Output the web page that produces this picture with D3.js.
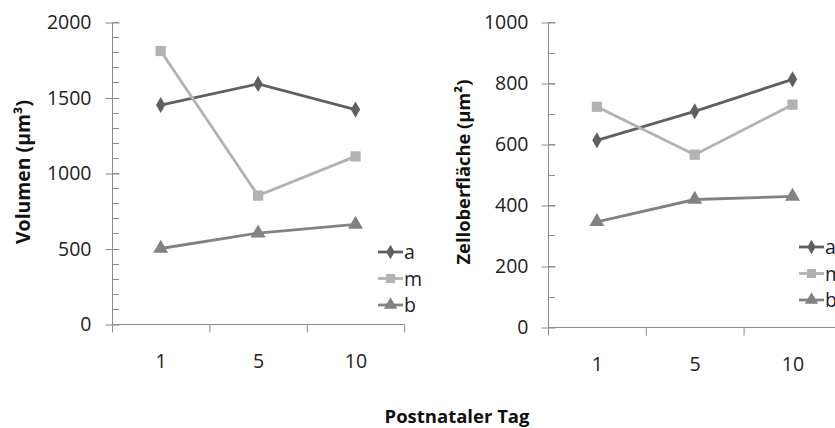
<!DOCTYPE html>
<html lang="de">
<head>
    <meta charset="UTF-8">
    <title>Volumen und Zelloberfläche</title>
    <script src="https://d3js.org/d3.v7.min.js"></script>
    <style>
        body, html {
            margin: 0;
            padding: 0;
            overflow: hidden;
            background: #fff;
        }
        svg {
            display: block;
        }
        svg text {
            font-family: "Open Sans", Lato, sans-serif;
        }
        .tick text, .tick-label, .legend text {
            font-size: 19.5px;
            fill: #222;
        }
        .axis-title {
            font-size: 18px;
            font-weight: bold;
            fill: #111;
        }
    </style>
</head>
<body>
<svg width="835" height="428"></svg>

<script>
    // Postnataler Tag
    const days = ['1', '5', '10'];
    const seriesNames = ['a', 'm', 'b'];

    // Volumen (µm³)
    const volumeA = [1450, 1590, 1420];
    const volumeM = [1808, 850, 1110];
    const volumeB = [500, 602, 660];
    const volumeTicks = [0, 500, 1000, 1500, 2000];

    // Zelloberfläche (µm²)
    const areaA = [612, 707, 812];
    const areaM = [722, 565, 729];
    const areaB = [345, 418, 428];
    const areaTicks = [0, 200, 400, 600, 800, 1000];

    const colors = { a: '#606060', m: '#b2b2b2', b: '#828282' };
    const axisColor = '#8c8c8c';

    const svg = d3.select('svg');

    function markerPath(name, size) {
        if (name === 'a') return d3.symbol(d3.symbolDiamond, size)();
        if (name === 'm') return d3.symbol(d3.symbolSquare, size * 1.4)();
        return d3.symbol(d3.symbolTriangle, size * 1.3)();
    }

    // scale a title's font so it spans roughly the length seen in the chart
    function fitText(sel, len) {
        const w = sel.node().getComputedTextLength();
        const fs = parseFloat(sel.style('font-size'));
        sel.style('font-size', (fs * len / w).toFixed(2) + 'px');
    }

    function drawPanel(opt) {
        const g = svg.append('g');

        const x = d3.scaleBand()
            .domain(days.concat(['']))
            .range([opt.left, opt.left + opt.bandWidth * 4])
            .padding(0);

        const y = d3.scaleLinear()
            .domain([0, opt.max])
            .range([opt.bottom, opt.top]);

        // minor ticks (inside)
        const minor = d3.range(0, opt.max + 1, opt.minorStep);
        g.append('g')
            .selectAll('line')
            .data(minor)
            .enter().append('line')
            .attr('x1', opt.left + 0.5)
            .attr('x2', opt.left + 7)
            .attr('y1', d => Math.round(y(d)) + 0.5)
            .attr('y2', d => Math.round(y(d)) + 0.5)
            .attr('stroke', axisColor);

        // y axis, major ticks cross the axis
        const yAxis = g.append('g')
            .attr('transform', `translate(${opt.left + 0.5},0.5)`)
            .call(d3.axisLeft(y).tickValues(opt.ticks).tickFormat(d3.format('d'))
                .tickSize(7).tickPadding(opt.tickPad));
        yAxis.attr('font-family', null).attr('font-size', null);
        yAxis.selectAll('line, path').attr('stroke', axisColor);
        yAxis.selectAll('.tick line').attr('x2', 7).attr('x1', -7);
        yAxis.select('.domain').attr('d', `M0,${opt.bottom}V${opt.top}`);

        // x axis: category boundaries
        const xAxisG = g.append('g').attr('transform', `translate(0.5,${opt.bottom + 0.5})`);
        xAxisG.append('line')
            .attr('x1', opt.left).attr('x2', opt.left + opt.bandWidth * 3)
            .attr('stroke', axisColor);
        xAxisG.selectAll('.bound')
            .data(days.concat(['']))
            .enter().append('line')
            .attr('class', 'bound')
            .attr('x1', d => x(d))
            .attr('x2', d => x(d))
            .attr('y1', 0)
            .attr('y2', 8)
            .attr('stroke', axisColor);
        xAxisG.selectAll('.tick-label')
            .data(days)
            .enter().append('text')
            .attr('class', 'tick-label')
            .attr('x', d => x(d) + x.bandwidth() / 2)
            .attr('y', 43)
            .attr('text-anchor', 'middle')
            .text(d => d);

        // y title
        const t = g.append('text')
            .attr('class', 'axis-title')
            .attr('transform', `translate(${opt.titleX},${opt.titleY}) rotate(-90)`)
            .attr('text-anchor', 'middle')
            .text(opt.title);
        fitText(t, opt.titleLen);

        // series
        const cx = d => x(d) + x.bandwidth() / 2;
        const line = d3.line()
            .x((d, i) => cx(days[i]))
            .y(d => y(d));

        opt.series.forEach((vals, si) => {
            const name = seriesNames[si];
            g.append('path')
                .datum(vals)
                .attr('d', line)
                .attr('fill', 'none')
                .attr('stroke', colors[name])
                .attr('stroke-width', 2.8);
            g.selectAll('.mk-' + name)
                .data(vals)
                .enter().append('path')
                .attr('class', 'mk-' + name)
                .attr('transform', (d, i) => `translate(${cx(days[i])},${y(d)})`)
                .attr('d', markerPath(name, 75))
                .attr('fill', colors[name]);
        });

        // legend
        const legend = g.append('g').attr('class', 'legend');
        seriesNames.forEach((name, i) => {
            const ly = opt.legendY + i * 26.5;
            legend.append('line')
                .attr('x1', opt.legendX).attr('x2', opt.legendX + 25)
                .attr('y1', ly).attr('y2', ly)
                .attr('stroke', colors[name])
                .attr('stroke-width', 2.8);
            legend.append('path')
                .attr('transform', `translate(${opt.legendX + 12.5},${ly})`)
                .attr('d', markerPath(name, 60))
                .attr('fill', colors[name]);
            legend.append('text')
                .attr('x', opt.legendX + 26)
                .attr('y', ly + 7)
                .text(name);
        });
    }

    drawPanel({
        left: 112, top: 22, bottom: 324, bandWidth: 97.4,
        max: 2000, ticks: volumeTicks, minorStep: 100, tickPad: 14,
        series: [volumeA, volumeM, volumeB],
        title: 'Volumen (µm³)', titleX: 30, titleY: 172, titleLen: 144,
        legendX: 378, legendY: 252
    });

    drawPanel({
        left: 548, top: 22, bottom: 327, bandWidth: 97.8,
        max: 1000, ticks: areaTicks, minorStep: 100, tickPad: 13,
        series: [areaA, areaM, areaB],
        title: 'Zelloberfläche (µm²)', titleX: 470, titleY: 172, titleLen: 185,
        legendX: 799, legendY: 247
    });

    const xt = svg.append('text')
        .attr('class', 'axis-title')
        .attr('x', 457)
        .attr('y', 423)
        .attr('text-anchor', 'middle')
        .text('Postnataler Tag');
    fitText(xt, 145);
</script>
</body>
</html>
